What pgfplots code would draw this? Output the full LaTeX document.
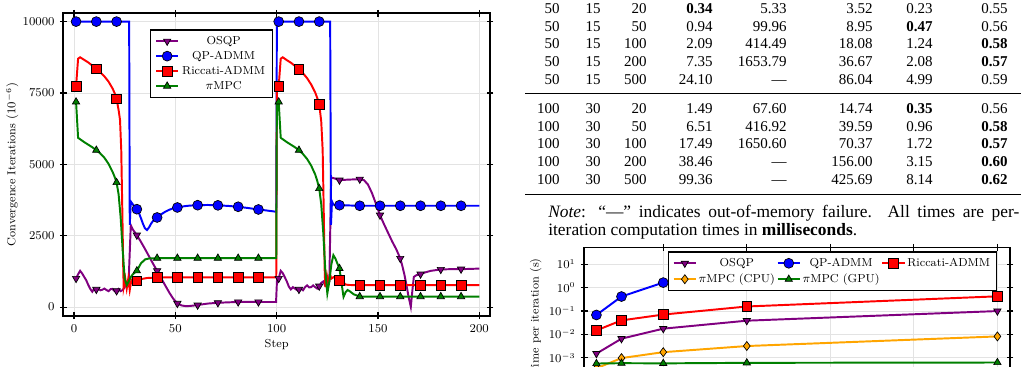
\documentclass[border=0pt]{standalone}
\usepackage{fontspec}
\usepackage{pgfplots}
\pgfplotsset{compat=1.18}
\newfontfamily\tfont{Liberation Serif}

\definecolor{cOSQP}{RGB}{128,0,128}
\definecolor{cQP}{RGB}{0,0,255}
\definecolor{cRic}{RGB}{255,0,0}
\definecolor{cPi}{RGB}{0,128,0}
\definecolor{cCPU}{RGB}{255,165,0}

\newcommand{\pfont}{\fontsize{7.7}{9.2}\selectfont}

\pgfplotsset{
  osqp/.style={color=cOSQP, line width=1.3pt, mark=triangle*, mark size=2.8pt,
    mark options={rotate=180, fill=cOSQP, draw=black, line width=0.45pt, solid}},
  qpadmm/.style={color=cQP, line width=1.3pt, mark=*, mark size=3.3pt,
    mark options={fill=cQP, draw=black, line width=0.45pt, solid}},
  ricc/.style={color=cRic, line width=1.3pt, mark=square*, mark size=3.2pt,
    mark options={fill=cRic, draw=black, line width=0.45pt, solid}},
  pimpc/.style={color=cPi, line width=1.3pt, mark=triangle*, mark size=2.8pt,
    mark options={fill=cPi, draw=black, line width=0.45pt, solid}},
  pimpccpu/.style={color=cCPU, line width=1.3pt, mark=diamond*, mark size=3.0pt,
    mark options={fill=cCPU, draw=black, line width=0.45pt, solid}},
  paperaxis/.style={
    scale only axis,
    axis line style={line width=1.1pt, black},
    tick align=center,
    major tick length=4.5pt,
    major tick style={line width=0.8pt, black},
    grid=major,
    grid style={gray!22, line width=0.5pt},
    tick label style={font=\pfont},
    label style={font=\pfont},
    legend style={font=\pfont, draw=black, line width=0.9pt, fill=white,
      cells={anchor=center}},
    legend image code/.code={%
      \draw[mark repeat=2, mark phase=2] plot coordinates {(0cm,0cm) (0.26cm,0cm) (0.52cm,0cm)};},
  },
}

% table cell: right-aligned on the baseline
\tikzset{tcell/.style={anchor=base east, inner sep=0pt, font=\tfont\fontsize{10}{12}\selectfont}}
\newcommand{\trow}[9]{%
  \node[tcell] at (560,#1) {#2};
  \node[tcell] at (601,#1) {#3};
  \node[tcell] at (647,#1) {#4};
  \node[tcell] at (713,#1) {#5};
  \node[tcell] at (787,#1) {#6};
  \node[tcell] at (873,#1) {#7};
  \node[tcell] at (933,#1) {#8};
  \node[tcell] at (1008,#1) {#9};}

\begin{document}
\begin{tikzpicture}
\useasboundingbox (0,0) rectangle (687.36pt,244.67pt);
\clip (0,0) rectangle (687.36pt,244.67pt);

% ---------------- convergence iterations over the steps ----------------
\begin{axis}[paperaxis,
  at={(42.2pt,34.2pt)}, anchor=south west,
  width=284.5pt, height=201.6pt,
  xmin=-5.3, xmax=205.3, ymin=-300, ymax=10290,
  xtick={0,50,100,150,200},
  ytick={0,2500,5000,7500,10000},
  scaled y ticks=false,
  yticklabel style={/pgf/number format/1000 sep={}},
  xlabel={Step},
  ylabel={Convergence Iterations $(10^{-6})$},
  xlabel style={yshift=2pt},
  ylabel style={yshift=-4pt},
  legend style={at={(0.203,0.947)}, anchor=north west, row sep=-1pt},
]
% OSQP
\addplot[osqp, no markers, forget plot] coordinates {
(1,1004) (2,1150) (3,1272) (4,1180) (5,1060) (6,945) (7,780) (8,640) (9,540)
(10,650) (11,620) (12,640) (13,590) (14,610) (15,650) (16,600) (17,560) (18,630)
(19,640) (20,560) (21,571) (22,640) (23,560) (24,600) (25,700) (26,770) (27,1000)
(28,2870) (29,2720) (30,2620) (31,2520) (33,2290) (35,2040) (37,1780) (39,1520)
(41,1272) (43,1010) (45,760) (47,510) (49,290) (51,130) (53,60) (55,35) (57,40)
(59,55) (61,70) (63,95) (66,125) (71,152) (76,168) (81,180) (86,182) (91,180)
(96,180) (99.7,180) (100.2,1004) (101,1004) (102,1272) (103,1190) (104,1050)
(105,900) (106,720) (107,620) (108,700) (109,650) (110,600) (111,620) (112,650)
(113,590) (114,700) (115,760) (116,690) (117,700) (118,760) (119,700) (120,650)
(121,735) (122,850) (123,900) (124,750) (125,700) (126,900) (126.9,4540) (128,4520)
(131,4446) (134,4460) (137,4470) (141,4480) (143,4450) (145,4300) (147,4000)
(149,3620) (151,3220) (153,2900) (155,2600) (157,2300) (159,2030) (161,1705)
(162,1450) (163,1150) (164,800) (165,400) (166.2,10) (167,600) (167.7,1060)
(169,1120) (171,1155) (173,1210) (176,1270) (181,1320) (186,1330) (191,1330)
(196,1340) (200,1350)};
\addplot[osqp, only marks, forget plot] coordinates {
(1,1004) (11,620) (21,571) (31,2520) (41,1272) (51,130) (61,70) (71,152) (81,180)
(91,180) (101,1004) (111,620) (121,735) (131,4446) (141,4480) (151,3220) (161,1705)
(171,1155) (181,1320) (191,1330)};
% QP-ADMM
\addplot[qpadmm, no markers, forget plot] coordinates {
(1,10000) (27.2,10000) (27.5,2880) (28,3700) (29,3600) (30,3510) (31,3430) (32,3300)
(33,3120) (34,2920) (35,2760) (36,2700) (37,2790) (38,2920) (39,3020) (40,3090)
(41,3140) (43,3250) (45,3340) (47,3410) (49,3460) (51,3490) (54,3530) (57,3555)
(61,3570) (66,3578) (71,3565) (76,3545) (81,3515) (86,3470) (91,3420) (95,3385)
(99.8,3340) (100.1,10000) (126.4,10000) (126.8,2880) (127.3,3700) (128,3590)
(131,3570) (136,3560) (141,3550) (200,3550)};
\addplot[qpadmm, only marks, forget plot] coordinates {
(1,10000) (11,10000) (21,10000) (31,3430) (41,3140) (51,3490) (61,3570) (71,3565)
(81,3515) (91,3420) (101,10000) (111,10000) (121,10000) (131,3570) (141,3550)
(151,3550) (161,3550) (171,3550) (181,3550) (191,3550)};
% Riccati-ADMM
\addplot[ricc, no markers, forget plot] coordinates {
(1,7735) (2,8700) (3,8750) (5,8660) (7,8570) (9,8460) (11,8345) (13,8220) (15,8080)
(17,7900) (19,7660) (20,7500) (21,7290) (22,6900) (22.7,6550) (23.3,5500) (23.8,3500)
(24.3,1300) (24.5,700) (25.3,1000) (26,650) (26.8,1000) (27.5,600) (28.3,950) (29,900)
(31,921) (33,980) (36,1020) (41,1038) (51,1040) (99.8,1040) (100.1,7735) (101,7735)
(102,8700) (103,8750) (105,8650) (107,8560) (109,8450) (111,8330) (113,8190)
(115,8020) (117,7800) (119,7520) (120,7330) (121,7107) (122,6500) (122.7,5500)
(123.2,3500) (123.7,1300) (124,700) (124.8,1100) (125.5,800) (126.3,1150) (127,1000)
(128,1050) (131,945) (132,960) (133,870) (134,790) (136,775) (141,770) (200,770)};
\addplot[ricc, only marks, forget plot] coordinates {
(1,7735) (11,8345) (21,7290) (31,921) (41,1038) (51,1040) (61,1040) (71,1040)
(81,1040) (91,1040) (101,7735) (111,8330) (121,7107) (131,945) (141,770) (151,770)
(161,770) (171,770) (181,770) (191,770)};
% piMPC
\addplot[pimpc, no markers, forget plot] coordinates {
(1,7188) (2,5930) (3,5880) (5,5780) (7,5690) (9,5600) (11,5497) (13,5380) (15,5230)
(17,5020) (19,4740) (20,4570) (21,4365) (22,3950) (23,3150) (24,2000) (25,1000)
(26,770) (27,900) (28,1050) (29,1150) (31,1272) (33,1530) (35,1670) (37,1705)
(41,1715) (99.8,1715) (100.1,7188) (101,7188) (102,5930) (103,5880) (105,5780)
(107,5690) (109,5600) (111,5497) (113,5360) (115,5190) (117,4960) (119,4650)
(120,4430) (121,4155) (122,3600) (123,2600) (124,1300) (125,480) (126,900) (127,1500)
(128,1820) (129,1700) (130,1520) (131,1355) (132,850) (133,360) (134,520) (135,600)
(136,560) (138,450) (141,370) (200,370)};
\addplot[pimpc, only marks, forget plot] coordinates {
(1,7188) (11,5497) (21,4365) (31,1272) (41,1715) (51,1715) (61,1715) (71,1715)
(81,1715) (91,1715) (101,7188) (111,5497) (121,4155) (131,1355) (141,370) (151,370)
(161,370) (171,370) (181,370) (191,370)};
\addlegendimage{osqp}\addlegendentry{OSQP}
\addlegendimage{qpadmm}\addlegendentry{QP-ADMM}
\addlegendimage{ricc}\addlegendentry{Riccati-ADMM}
\addlegendimage{pimpc}\addlegendentry{$\pi$MPC}
\end{axis}

% ---------------- time per iteration against the horizon ----------------
\begin{axis}[paperaxis,
  at={(389.5pt,-9.33pt)}, anchor=south west,
  width=283.8pt, height=89.1pt,
  ymode=log, log basis y=10,
  xmin=5.4, xmax=515, ymin=1e-4, ymax=53.5,
  xtick={0,100,200,300,400,500},
  xticklabels={},
  ytick={1e-3,1e-2,1e-1,1,10},
  extra y ticks={1e-4}, extra y tick labels={},
  yminorticks=false,
  ylabel={Time per iteration (s)},
  ylabel style={xshift=-2pt, yshift=-6.5pt},
  legend pos=north east,
  legend columns=3,
  legend style={row sep=-0.5pt, nodes={inner xsep=1.2pt}},
]
\addplot[osqp] coordinates {(20,0.00149) (50,0.00651) (100,0.01749) (200,0.03846) (500,0.09936)};
\addlegendentry{OSQP}
\addplot[qpadmm] coordinates {(20,0.0676) (50,0.41692) (100,1.6506)};
\addlegendentry{QP-ADMM}
\addplot[ricc] coordinates {(20,0.01474) (50,0.03959) (100,0.07037) (200,0.156) (500,0.42569)};
\addlegendentry{Riccati-ADMM}
\addplot[pimpccpu] coordinates {(20,0.00035) (50,0.00096) (100,0.00172) (200,0.00315) (500,0.00814)};
\addlegendentry{$\pi$MPC (CPU)}
\addplot[pimpc] coordinates {(20,0.00056) (50,0.00058) (100,0.00057) (200,0.00060) (500,0.00062)};
\addlegendentry{$\pi$MPC (GPU)}
\end{axis}

% ---------------- timing table (ms) ----------------
\begin{scope}[x=0.6667pt, y=-0.6667pt, shift={(0pt,244.67pt)}]
\trow{13.3}{50}{15}{20}{\textbf{0.34}}{5.33}{3.52}{0.23}{0.55}
\trow{31.0}{50}{15}{50}{0.94}{99.96}{8.95}{\textbf{0.47}}{0.56}
\trow{48.8}{50}{15}{100}{2.09}{414.49}{18.08}{1.24}{\textbf{0.58}}
\trow{66.5}{50}{15}{200}{7.35}{1653.79}{36.67}{2.08}{\textbf{0.57}}
\trow{84.3}{50}{15}{500}{24.10}{—}{86.04}{4.99}{0.59}
\draw[line width=0.45pt] (525,93) -- (1021,93);
\trow{113.3}{100}{30}{20}{1.49}{67.60}{14.74}{\textbf{0.35}}{0.56}
\trow{131.0}{100}{30}{50}{6.51}{416.92}{39.59}{0.96}{\textbf{0.58}}
\trow{148.8}{100}{30}{100}{17.49}{1650.60}{70.37}{1.72}{\textbf{0.57}}
\trow{166.5}{100}{30}{200}{38.46}{—}{156.00}{3.15}{\textbf{0.60}}
\trow{184.3}{100}{30}{500}{99.36}{—}{425.69}{8.14}{\textbf{0.62}}
\draw[line width=0.9pt] (525,194.5) -- (1021,194.5);
\node[anchor=base west, inner sep=0pt, font=\tfont\fontsize{11.6}{13.9}\selectfont] at (548,217.5)
  {\makebox[314pt][s]{\textit{Note}: “—” indicates out-of-memory failure. All times are per-}};
\node[anchor=base west, inner sep=0pt, font=\tfont\fontsize{11.6}{13.9}\selectfont] at (548,235)
  {iteration computation times in \textbf{milliseconds}.};
\end{scope}
\end{tikzpicture}
\end{document}
